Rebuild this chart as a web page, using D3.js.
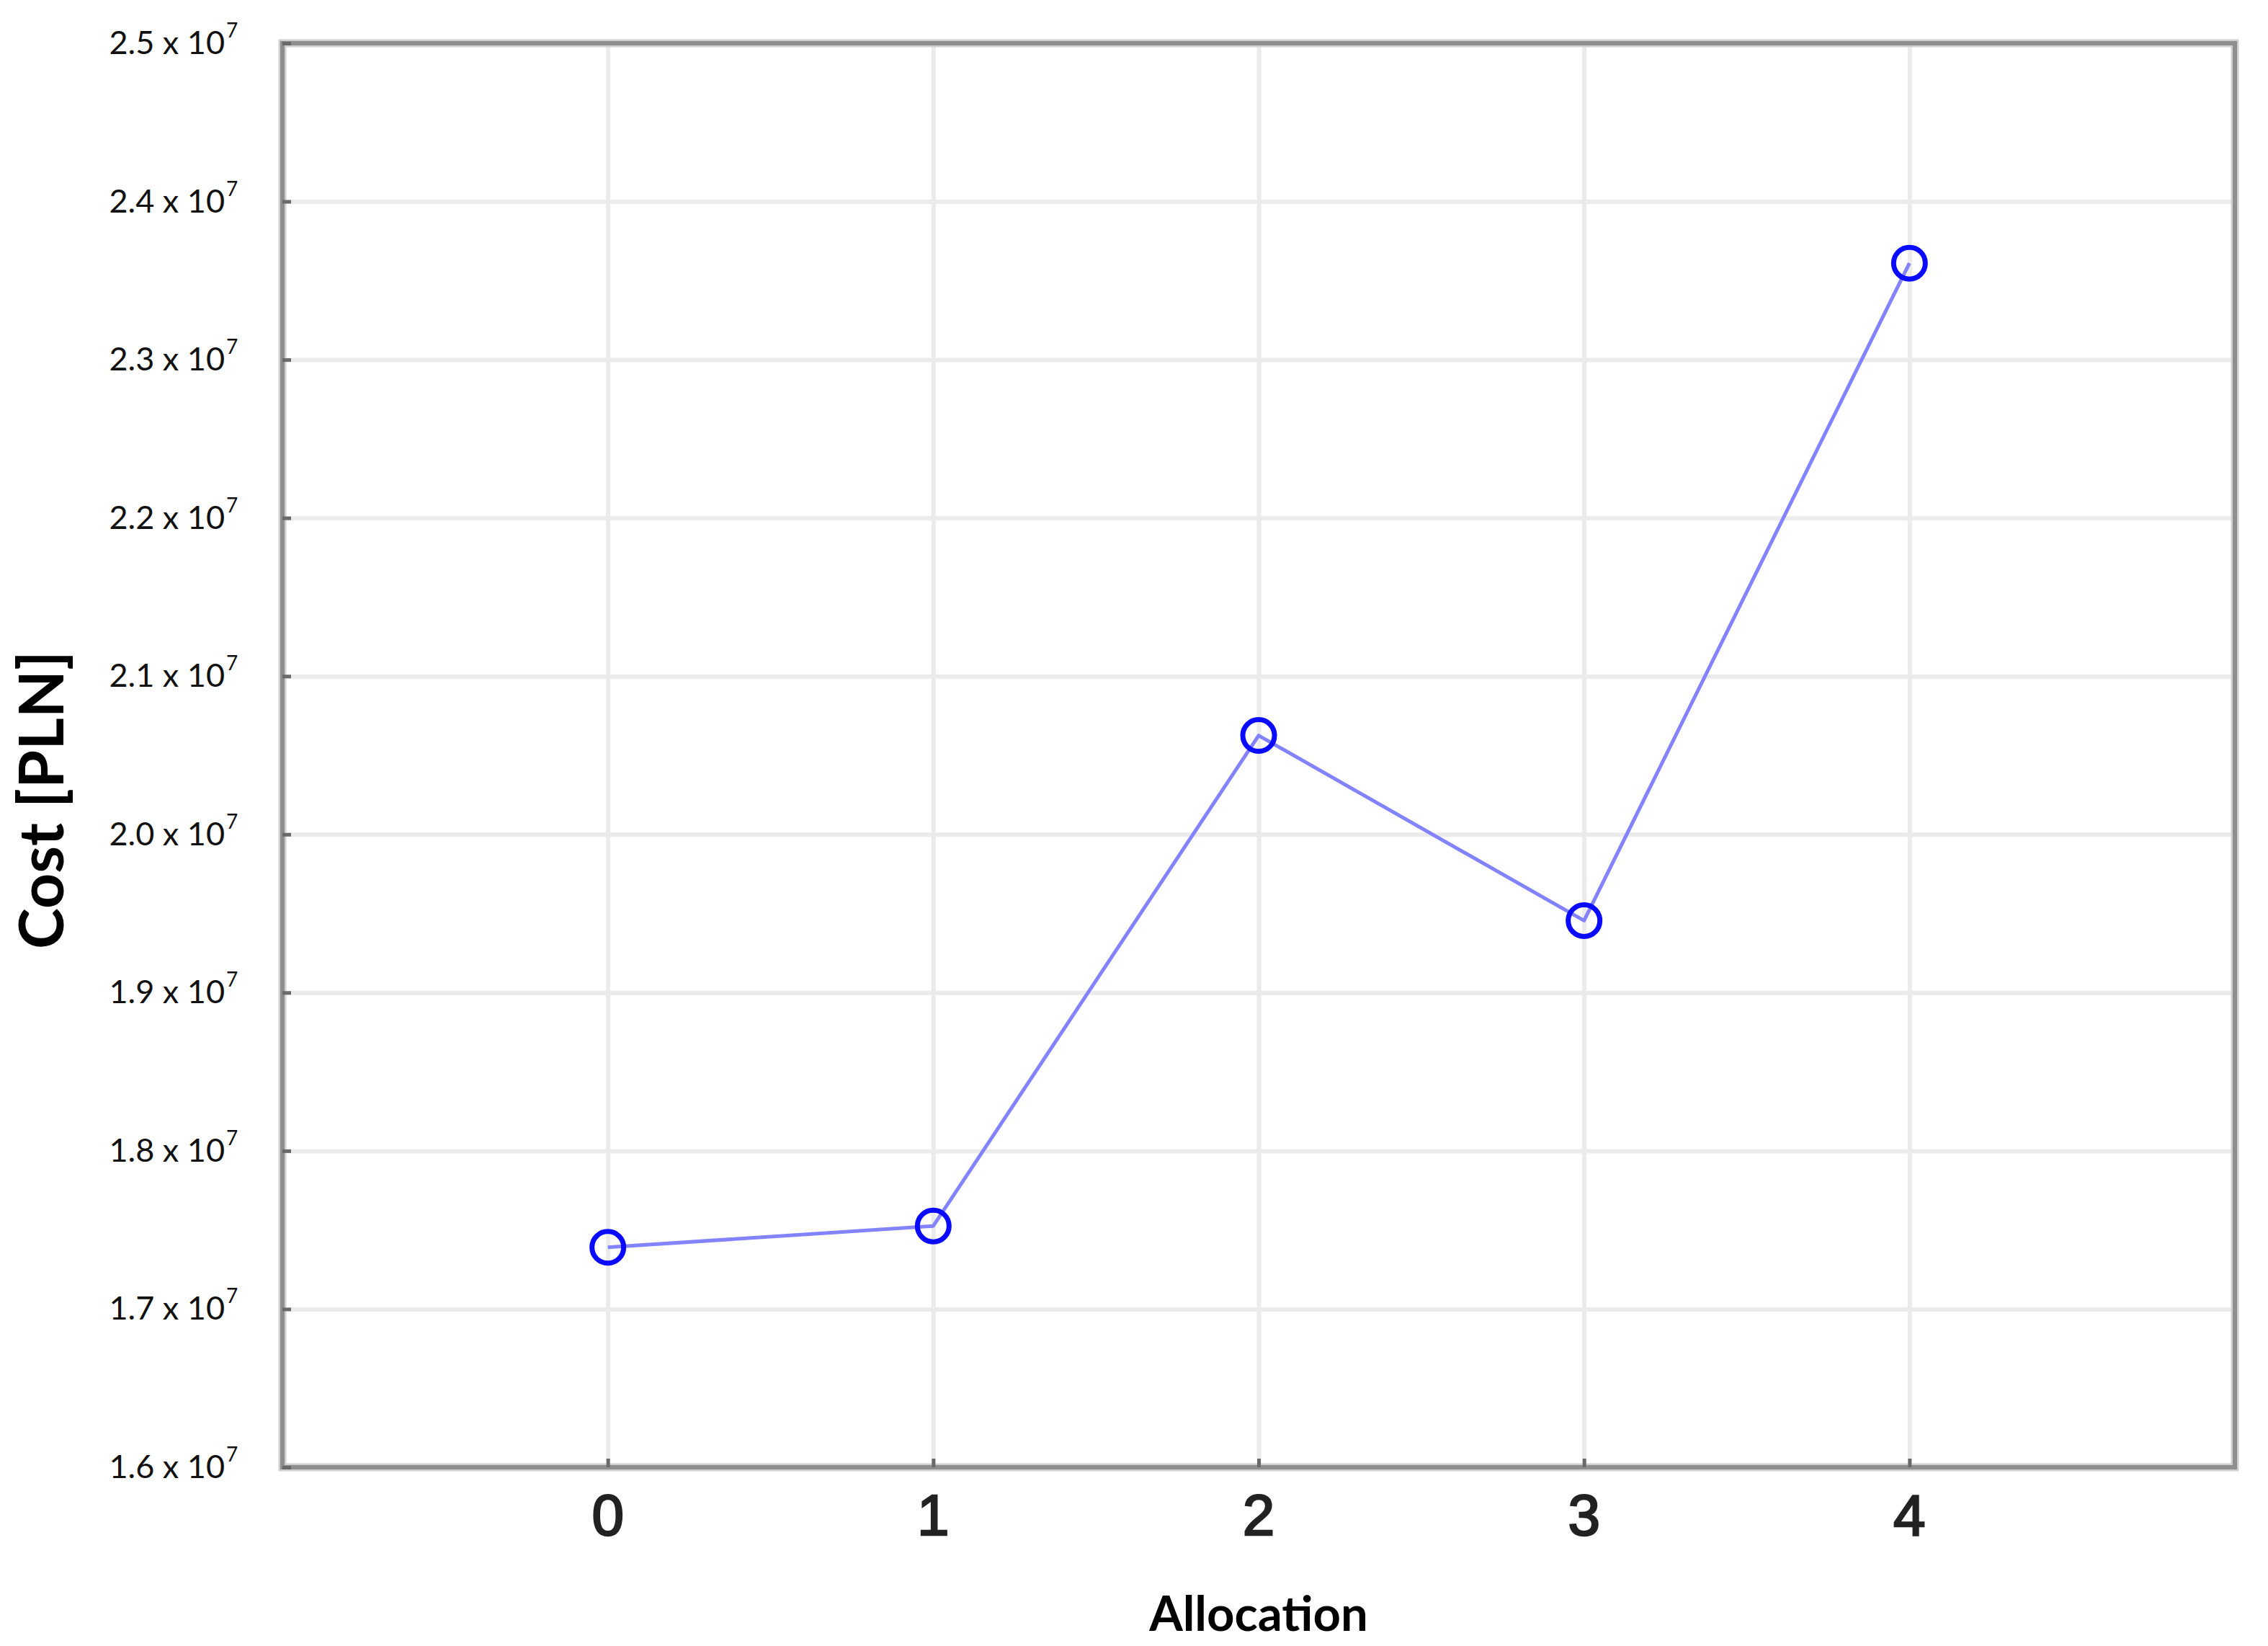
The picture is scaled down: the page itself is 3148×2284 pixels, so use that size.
<!DOCTYPE html>
<html>
<head>
<meta charset="utf-8">
<script src="https://cdn.jsdelivr.net/npm/d3@7"></script>
<style>
  html, body { margin: 0; padding: 0; background: #ffffff; }
  svg { display: block; }
</style>
</head>
<body>
<script>
// ---- data ----
const categories = [0, 1, 2, 3, 4];
const costs = [17390000, 17525000, 20625000, 19455000, 23610000];
const yTicks = [16000000, 17000000, 18000000, 19000000, 20000000, 21000000, 22000000, 23000000, 24000000, 25000000];
const yTickMantissa = ["1.6", "1.7", "1.8", "1.9", "2.0", "2.1", "2.2", "2.3", "2.4", "2.5"];
const yTickExponent = "7";
const xTitle = "Allocation";
const yTitle = "Cost [PLN]";

// ---- layout ----
const W = 3148, H = 2284;
const L = 392, R = 3102, T = 60, B = 2036;

const svg = d3.select("body").append("svg")
  .attr("width", W).attr("height", H)
  .attr("viewBox", `0 0 ${W} ${H}`);
svg.append("rect").attr("width", W).attr("height", H).attr("fill", "#ffffff");

const x = d3.scaleLinear().domain([-1, 5]).range([L, R]);
const y = d3.scaleLinear().domain([16000000, 25000000]).range([B, T]);

// gridlines via axes
const gy = svg.append("g").attr("transform", `translate(${L},0)`)
  .call(d3.axisLeft(y).tickValues(yTicks).tickSize(-(R - L)).tickFormat(""));
gy.select(".domain").remove();
gy.selectAll(".tick line").attr("stroke", "#ebebeb").attr("stroke-width", 6);

const gx = svg.append("g").attr("transform", `translate(0,${B})`)
  .call(d3.axisBottom(x).tickValues(categories).tickSize(-(B - T)).tickFormat(""));
gx.select(".domain").remove();
gx.selectAll(".tick line").attr("stroke", "#ebebeb").attr("stroke-width", 6);

// series line
const line = d3.line().x((d, i) => x(categories[i])).y(d => y(d));
svg.append("path").datum(costs)
  .attr("d", line)
  .attr("fill", "none")
  .attr("stroke", "#8383ff")
  .attr("stroke-width", 5)
  .attr("stroke-linejoin", "round");

// markers
svg.selectAll("circle.mk").data(costs).enter().append("circle")
  .attr("class", "mk")
  .attr("cx", (d, i) => x(categories[i]))
  .attr("cy", d => y(d))
  .attr("r", 22)
  .attr("fill", "none")
  .attr("stroke", "#0a0aff")
  .attr("stroke-width", 7);

// frame
svg.append("rect")
  .attr("x", L).attr("y", T).attr("width", R - L).attr("height", B - T)
  .attr("fill", "none").attr("stroke", "#cfcfcf").attr("stroke-width", 11);
svg.append("rect")
  .attr("x", L).attr("y", T).attr("width", R - L).attr("height", B - T)
  .attr("fill", "none").attr("stroke", "#8e8e8e").attr("stroke-width", 6);

// small tick marks
const tl = svg.append("g").attr("transform", `translate(${L},0)`)
  .call(d3.axisRight(y).tickValues(yTicks).tickSize(12).tickFormat(""));
tl.select(".domain").remove();
tl.selectAll(".tick line").attr("stroke", "#6a6a6a").attr("stroke-width", 5);

const tb = svg.append("g").attr("transform", `translate(0,${B})`)
  .call(d3.axisTop(x).tickValues(categories).tickSize(12).tickFormat(""));
tb.select(".domain").remove();
tb.selectAll(".tick line").attr("stroke", "#6a6a6a").attr("stroke-width", 5);

// y tick labels "m x 10^7"
const yl = svg.append("g");
yTicks.forEach((v, i) => {
  yl.append("text")
    .attr("x", 312)
    .attr("y", y(v) + 15)
    .attr("text-anchor", "end")
    .attr("font-family", "Lato, 'Open Sans', sans-serif")
    .attr("font-size", 45)
    .attr("fill", "#111")
    .text(yTickMantissa[i] + " x 10");
  yl.append("text")
    .attr("x", 314)
    .attr("y", y(v) - 8)
    .attr("text-anchor", "start")
    .attr("font-family", "Lato, 'Open Sans', sans-serif")
    .attr("font-size", 28)
    .attr("fill", "#111")
    .text(yTickExponent);
});

// x tick labels
svg.append("g").selectAll("text").data(categories).enter().append("text")
  .attr("x", d => x(d))
  .attr("y", 2130)
  .attr("text-anchor", "middle")
  .attr("font-family", "'Liberation Sans', Arial, sans-serif")
  .attr("font-size", 80)
  .attr("fill", "#222")
  .attr("stroke", "#222")
  .attr("stroke-width", 2.5)
  .text(d => String(d));

// axis titles
svg.append("text")
  .attr("x", x(2))
  .attr("y", 2263)
  .attr("text-anchor", "middle")
  .attr("font-family", "Lato, sans-serif")
  .attr("font-weight", "bold")
  .attr("font-size", 67)
  .attr("fill", "#000")
  .text(xTitle);

svg.append("text")
  .attr("transform", `translate(88,1110) rotate(-90)`)
  .attr("text-anchor", "middle")
  .attr("font-family", "Lato, sans-serif")
  .attr("font-weight", "bold")
  .attr("font-size", 86)
  .attr("fill", "#000")
  .text(yTitle);
</script>
</body>
</html>
